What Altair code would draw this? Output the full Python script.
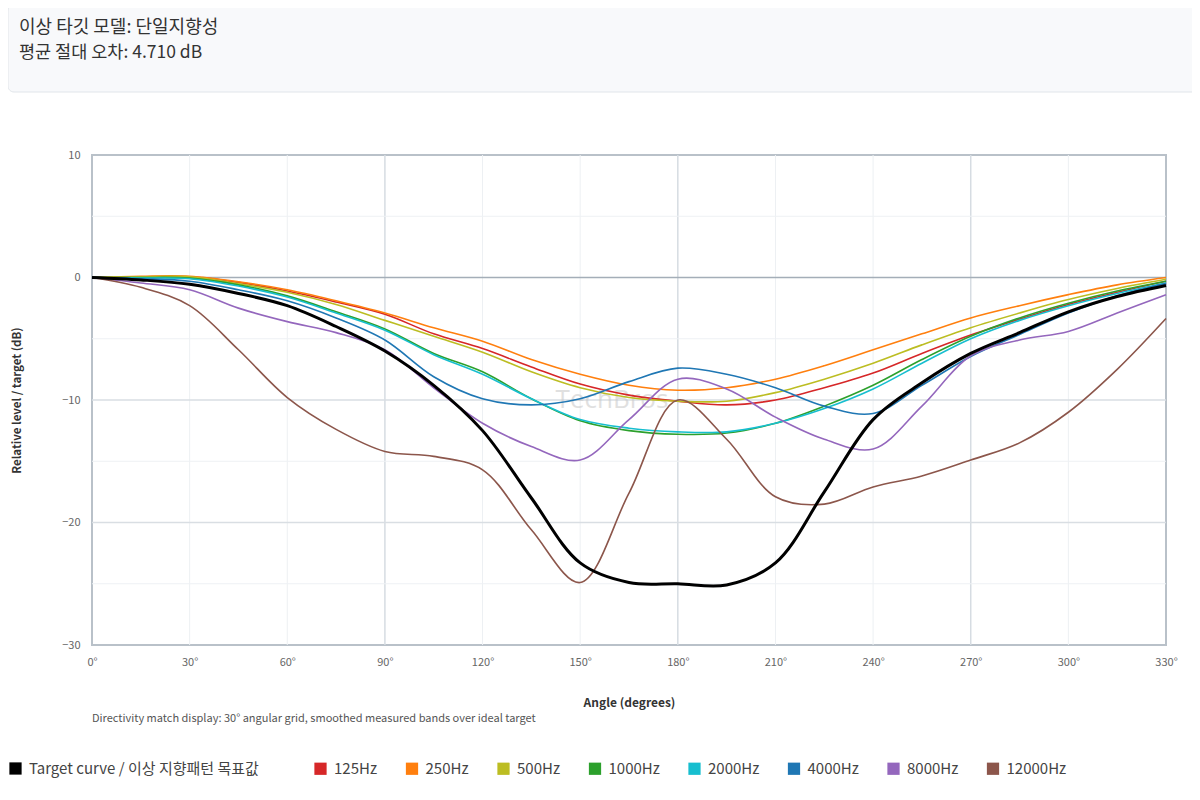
import altair as alt
import pandas as pd

# ---------------- data ----------------
angles = [0, 15, 30, 45, 60, 75, 90, 105, 120, 135, 150, 165,
          180, 195, 210, 225, 240, 255, 270, 285, 300, 315, 330]

target = [0, -0.2, -0.55, -1.3, -2.3, -4.0, -6.0, -8.8, -12.5, -18.0, -23.3, -24.9,
          -25.0, -25.1, -23.3, -17.5, -11.6, -8.6, -6.2, -4.5, -2.8, -1.55, -0.65]
hz125 = [0, 0.05, 0.05, -0.4, -1.1, -2.0, -3.0, -4.6, -5.8, -7.3, -8.7, -9.6,
         -10.1, -10.4, -10.0, -9.0, -7.8, -6.2, -4.7, -3.4, -2.2, -1.2, -0.3]
hz250 = [0, 0.1, 0.1, -0.35, -1.0, -1.9, -2.9, -4.1, -5.2, -6.7, -7.9, -8.8,
         -9.2, -9.0, -8.3, -7.2, -5.9, -4.6, -3.3, -2.3, -1.4, -0.6, 0.0]
hz500 = [0, 0.05, 0.05, -0.5, -1.2, -2.2, -3.5, -4.8, -6.1, -7.7, -9.0, -9.8,
         -10.1, -10.1, -9.4, -8.3, -7.0, -5.5, -4.1, -2.9, -1.8, -0.9, -0.15]
hz1000 = [0, 0.0, -0.05, -0.6, -1.5, -2.8, -4.2, -6.2, -7.7, -9.9, -11.7, -12.5,
          -12.8, -12.7, -11.9, -10.5, -8.8, -6.7, -4.8, -3.3, -2.1, -1.1, -0.3]
hz2000 = [0, -0.05, -0.1, -0.7, -1.6, -2.9, -4.3, -6.3, -7.9, -9.9, -11.6, -12.3,
          -12.6, -12.6, -11.9, -10.7, -9.1, -7.0, -5.0, -3.5, -2.3, -1.3, -0.45]
hz4000 = [0, -0.1, -0.3, -1.0, -1.9, -3.3, -5.1, -8.1, -9.9, -10.4, -9.9, -8.5,
          -7.4, -7.9, -9.0, -10.5, -11.1, -8.8, -6.45, -4.65, -2.9, -1.5, -0.5]
hz8000 = [0, -0.45, -1.0, -2.5, -3.6, -4.5, -5.9, -9.0, -11.9, -13.8, -14.9, -11.6,
          -8.3, -9.1, -11.4, -13.2, -14.0, -10.5, -6.4, -5.1, -4.4, -2.9, -1.4]
hz12000 = [0, -0.8, -2.3, -5.9, -9.8, -12.4, -14.2, -14.6, -15.7, -20.6, -24.9, -17.6,
           -10.0, -13.2, -17.9, -18.5, -17.1, -16.2, -14.9, -13.5, -11.0, -7.5, -3.35]

series_names = ["Target curve / 이상 지향패턴 목표값", "125Hz", "250Hz", "500Hz",
                "1000Hz", "2000Hz", "4000Hz", "8000Hz", "12000Hz"]
series_values = [target, hz125, hz250, hz500, hz1000, hz2000, hz4000, hz8000, hz12000]
series_colors = ["#000000", "#d62728", "#ff7f0e", "#bcbd22", "#2ca02c",
                 "#17becf", "#1f77b4", "#9467bd", "#8c564b"]

x_ticks = list(range(0, 331, 30))
y_ticks = [-30, -20, -10, 0, 10]

header_line1 = "이상 타깃 모델: 단일지향성"
header_line2 = "평균 절대 오차: 4.710 dB"
caption = "Directivity match display: 30° angular grid, smoothed measured bands over ideal target"
watermark = "TechBros"

# ---------------- build table ----------------
rows = []
for name, vals in zip(series_names, series_values):
    for a, v in zip(angles, vals):
        rows.append({"angle": a, "level": v, "series": name})
df = pd.DataFrame(rows)
df_target = df[df.series == series_names[0]]
df_bands = df[df.series != series_names[0]]

FONT = "'Noto Sans CJK KR', 'Noto Sans', sans-serif"
W, H = 1074, 490

x_enc = alt.X("angle:Q",
              scale=alt.Scale(domain=[0, 330], nice=False, zero=False),
              axis=alt.Axis(values=x_ticks, labelExpr="datum.value + '°'",
                            title="Angle (degrees)", grid=False, domain=False, ticks=False,
                            labelFlush=False, labelPadding=11, labelFontSize=11,
                            labelColor="#666666", titleFontSize=12, titleFontWeight="bold",
                            titleColor="#333333", titleY=52, titleBaseline="top"))
y_enc = alt.Y("level:Q",
              scale=alt.Scale(domain=[-30, 10], nice=False, zero=False),
              axis=alt.Axis(values=y_ticks, title="Relative level / target (dB)",
                            grid=False, domain=False, ticks=False, labelPadding=12,
                            labelFontSize=11, labelColor="#666666", titleFontSize=11.5,
                            titleFontWeight="bold", titleColor="#333333",
                            titleX=-75, titleY=H / 2, titleBaseline="middle"))

# stroke scale for the lines (domain listed in reverse so it is not merged with the legends)
stroke_scale = alt.Scale(domain=series_names[::-1], range=series_colors[::-1])
# legend scales: target entry and band entries as two legends
target_scale = alt.Scale(domain=series_names[:1], range=series_colors[:1])
band_scale = alt.Scale(domain=series_names[1:], range=series_colors[1:])

one = pd.DataFrame({"k": [0]})

# header box
header_box = alt.Chart(one).mark_rect(
    fill="#f8f9fb", stroke="#e1e5ea", strokeWidth=1, cornerRadius=6
).encode(x=alt.value(-84), x2=alt.value(1107), y=alt.value(-150), y2=alt.value(-63))

header_t1 = alt.Chart(pd.DataFrame({"t": [header_line1]})).mark_text(
    align="left", baseline="middle", fontSize=18, color="#333333", font=FONT
).encode(x=alt.value(-73), y=alt.value(-127), text="t:N")
header_t2 = alt.Chart(pd.DataFrame({"t": [header_line2]})).mark_text(
    align="left", baseline="middle", fontSize=17.5, color="#333333", font=FONT
).encode(x=alt.value(-73), y=alt.value(-102), text="t:N")

# grid
vminor = alt.Chart(pd.DataFrame({"angle": [30, 60, 120, 150, 210, 240, 300]})).mark_rule(
    color="#edf0f3", strokeWidth=1).encode(x="angle:Q")
vmajor = alt.Chart(pd.DataFrame({"angle": [90, 180, 270]})).mark_rule(
    color="#d6dce2", strokeWidth=1.5).encode(x="angle:Q")
hminor = alt.Chart(pd.DataFrame({"level": [5, -5, -15, -25]})).mark_rule(
    color="#eef1f4", strokeWidth=1).encode(y="level:Q")
hmajor = alt.Chart(pd.DataFrame({"level": [-10, -20]})).mark_rule(
    color="#d9dee3", strokeWidth=1.5).encode(y="level:Q")
hzero = alt.Chart(pd.DataFrame({"level": [0]})).mark_rule(
    color="#a4aeb8", strokeWidth=1.6).encode(y="level:Q")

wm = alt.Chart(pd.DataFrame({"t": [watermark]})).mark_text(
    align="center", baseline="middle", fontSize=26, color="#c8c8c8", opacity=0.55,
    font="'Open Sans', sans-serif"
).encode(x=alt.value(520), y=alt.value(245), text="t:N")

bands = alt.Chart(df_bands).mark_line(interpolate="catmull-rom", strokeWidth=1.6).encode(
    x=x_enc, y=y_enc,
    stroke=alt.Stroke("series:N", scale=stroke_scale, legend=None),
    detail="series:N")

target_line = alt.Chart(df_target).mark_line(interpolate="catmull-rom", strokeWidth=3).encode(
    x=x_enc, y=y_enc,
    stroke=alt.Stroke("series:N", scale=stroke_scale, legend=None))

legend_common = dict(orient="none", direction="horizontal", title=None,
                     labelFontSize=15, labelColor="#444444", labelFont=FONT,
                     labelLimit=500, labelOffset=6, symbolOffset=0, padding=0,
                     symbolType="square", symbolSize=150)

legend_target = alt.Chart(df_target).mark_square(size=150, filled=True, opacity=1).encode(
    x=x_enc, y=y_enc,
    color=alt.Color("series:N", scale=target_scale,
                    legend=alt.Legend(legendX=-84, legendY=606, **legend_common))
).transform_filter("datum.angle < 0")

legend_bands = alt.Chart(df_bands).mark_square(size=150, filled=True, opacity=1).encode(
    x=x_enc, y=y_enc,
    fill=alt.Fill("series:N", scale=band_scale,
                  legend=alt.Legend(legendX=221, legendY=606, columnPadding=26.5,
                                    **legend_common))
).transform_filter("datum.angle < 0")

cap = alt.Chart(pd.DataFrame({"t": [caption]})).mark_text(
    align="left", baseline="middle", fontSize=11, color="#555555", font=FONT
).encode(x=alt.value(0), y=alt.value(564), text="t:N")

chart = alt.layer(
    header_box, header_t1, header_t2,
    vminor, vmajor, hminor, hmajor, hzero, wm,
    bands, target_line, legend_target, legend_bands, cap
).properties(
    width=W, height=H,
    autosize=alt.AutoSizeParams(type="none"),
    padding={"left": 84, "top": 147, "right": 26, "bottom": 135},
    background="white",
).configure(font=FONT).configure_view(stroke="#b9c1c9", strokeWidth=2)

chart.save("out.html", embed_options={"renderer": "svg", "actions": False})
